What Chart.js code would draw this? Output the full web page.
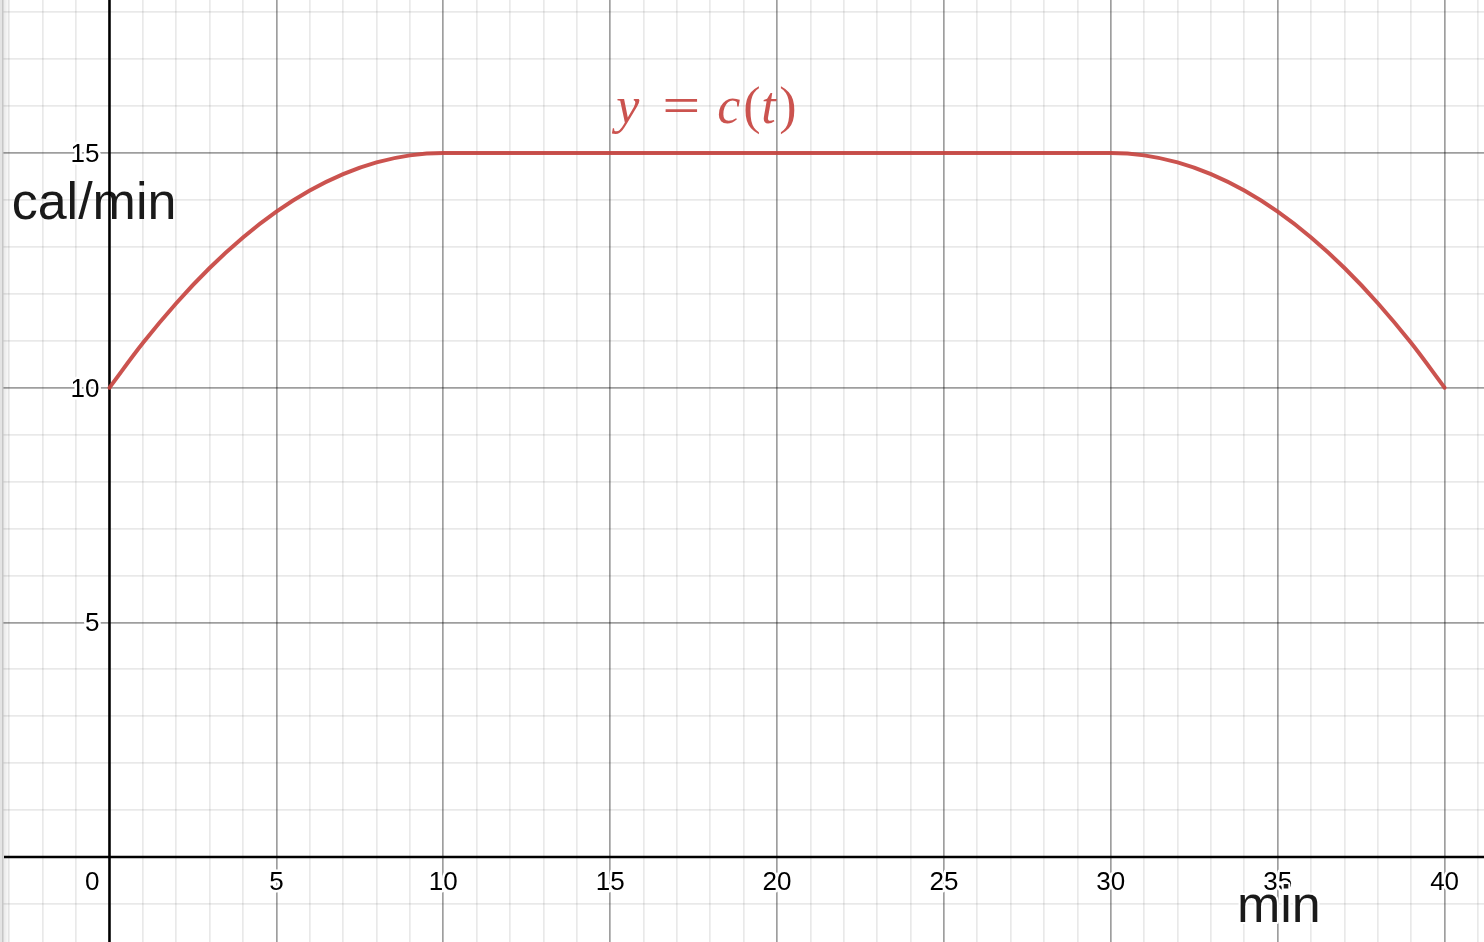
<!DOCTYPE html>
<html><head><meta charset="utf-8">
<script src="https://cdn.jsdelivr.net/npm/chart.js@4"></script>
<style>html,body{margin:0;padding:0;background:#fff;overflow:hidden}#wrap{width:1484px;height:942px;position:relative}</style>
</head><body><div id="wrap"><canvas id="c"></canvas></div>
<script>
// ---- data ----
const tValues   = [0,1,2,3,4,5,6,7,8,9,10,11,12,13,14,15,16,17,18,19,20,21,22,23,24,25,26,27,28,29,30,31,32,33,34,35,36,37,38,39,40];
const calValues = [10,10.95,11.8,12.55,13.2,13.75,14.2,14.55,14.8,14.95,15,15,15,15,15,15,15,15,15,15,15,15,15,15,15,15,15,15,15,15,15,14.95,14.8,14.55,14.2,13.75,13.2,12.55,11.8,10.95,10];
const xTickValues = [0,5,10,15,20,25,30,35,40];
const xTickLabels = ['0','5','10','15','20','25','30','35','40'];
const yTickValues = [5,10,15];
const yTickLabels = ['5','10','15'];
const xAxisTitle = 'min';
const yAxisTitle = 'cal/min';
const curveLabel = ['y', '=', 'c', '(', 't', ')'];

const X_MIN = -3.28, X_MAX = 41.18, Y_MIN = -1.81, Y_MAX = 18.26;
const RED = 'rgba(199,68,64,0.92)';

function intRange(a, b){ const r=[]; for(let v=Math.ceil(a); v<=Math.floor(b); v++) r.push({value:v}); return r; }
function gridColor(c){
  const v = c.tick ? c.tick.value : null;
  if (v === 0) return 'rgba(0,0,0,0)';
  return (v % 5 === 0) ? 'rgba(0,0,0,0.38)' : 'rgba(0,0,0,0.085)';
}
function gridWidth(c){ return 1.7; }
function halo(ctx, text, x, y, font, color, align, w){
  ctx.save();
  ctx.font = font; ctx.textAlign = align || 'left'; ctx.textBaseline = 'alphabetic';
  if (w) { ctx.lineJoin = 'round'; ctx.strokeStyle = '#fff'; ctx.lineWidth = w; ctx.strokeText(text, x, y); }
  ctx.fillStyle = color; ctx.fillText(text, x, y);
  ctx.restore();
}

const deco = {
  id: 'deco',
  beforeDatasetsDraw(chart){
    const ctx = chart.ctx, xs = chart.scales.x, ys = chart.scales.y;
    // left panel edge
    ctx.save();
    ctx.fillStyle = '#e4e4e4'; ctx.fillRect(0,0,2,chart.height);
    ctx.fillStyle = '#c6c6c6'; ctx.fillRect(2,0,1.5,chart.height);
    const g = ctx.createLinearGradient(3.5,0,10,0);
    g.addColorStop(0,'rgba(0,0,0,0.09)'); g.addColorStop(1,'rgba(0,0,0,0)');
    ctx.fillStyle = g; ctx.fillRect(3.5,0,6.5,chart.height);
    ctx.restore();
    // y axis title (under the axis line)
    const bf = '52px "Liberation Sans", Arial, sans-serif';
    halo(ctx, yAxisTitle, xs.getPixelForValue(-2.93), ys.getPixelForValue(13.6), bf, '#1a1a1a', 'left', 0);
    // axes
    ctx.save();
    ctx.strokeStyle = '#000'; ctx.lineWidth = 2.6;
    const x0 = xs.getPixelForValue(0), y0 = ys.getPixelForValue(0);
    ctx.beginPath(); ctx.moveTo(x0, 0); ctx.lineTo(x0, chart.height); ctx.stroke();
    ctx.beginPath(); ctx.moveTo(4, y0); ctx.lineTo(chart.width, y0); ctx.stroke();
    ctx.restore();
  },
  afterDatasetsDraw(chart){
    const ctx = chart.ctx, xs = chart.scales.x, ys = chart.scales.y;
    const x0 = xs.getPixelForValue(0), y0 = ys.getPixelForValue(0);
    const tf = '26px "Liberation Sans", Arial, sans-serif';
    xTickValues.forEach((v,i)=>{
      if (v === 0) halo(ctx, xTickLabels[i], x0 - 10, y0 + 33, tf, '#000', 'right', 5);
      else halo(ctx, xTickLabels[i], xs.getPixelForValue(v), y0 + 33, tf, '#000', 'center', 5);
    });
    yTickValues.forEach((v,i)=>{
      halo(ctx, yTickLabels[i], x0 - 10, ys.getPixelForValue(v) + 9, tf, '#000', 'right', 5);
    });
    const bf = '52px "Liberation Sans", Arial, sans-serif';
    halo(ctx, xAxisTitle, xs.getPixelForValue(33.78), ys.getPixelForValue(-1.38), bf, '#1a1a1a', 'left', 4);
    // curve label y = c(t)
    const lx = xs.getPixelForValue(15.12), ly = ys.getPixelForValue(15) - 30;
    const it = 'italic 52px "Liberation Serif", "Times New Roman", serif';
    const up = '52px "Liberation Serif", "Times New Roman", serif';
    const offs = [2, 48, 103, 129, 147, 165];
    const fonts = [it, up, it, up, it, up];
    curveLabel.forEach((s,i)=>{
      if (s === '=') {
        ctx.save(); ctx.translate(lx + offs[i], ly); ctx.scale(1.3, 1);
        halo(ctx, s, 0, 0, up, RED, 'left', 0); ctx.restore();
      } else halo(ctx, s, lx + offs[i], ly, fonts[i], RED, 'left', 0);
    });
  }
};

new Chart(document.getElementById('c'), {
  type: 'line',
  data: { datasets: [{
    data: tValues.map((t,i)=>({x:t, y:calValues[i]})),
    borderColor: RED, borderWidth: 4, pointRadius: 0, fill: false,
    cubicInterpolationMode: 'monotone', borderCapStyle: 'round', borderJoinStyle: 'round'
  }]},
  options: {
    responsive: true, maintainAspectRatio: false, animation: false, events: [],
    layout: { padding: 0 },
    plugins: { legend: {display:false}, tooltip: {enabled:false} },
    scales: {
      x: { type:'linear', min:X_MIN, max:X_MAX,
           afterBuildTicks: ax => { ax.ticks = intRange(X_MIN, X_MAX); },
           ticks:{display:false}, border:{display:false},
           grid:{drawTicks:false, color:gridColor, lineWidth:gridWidth} },
      y: { type:'linear', min:Y_MIN, max:Y_MAX,
           afterBuildTicks: ax => { ax.ticks = intRange(Y_MIN, Y_MAX); },
           ticks:{display:false}, border:{display:false},
           grid:{drawTicks:false, color:gridColor, lineWidth:gridWidth} }
    }
  },
  plugins: [deco]
});
</script>
</body></html>
